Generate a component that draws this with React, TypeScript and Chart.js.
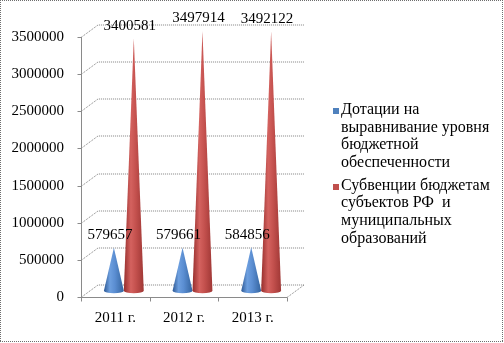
import React, { useEffect, useRef } from "react";
import { Chart, registerables } from "chart.js";

Chart.register(...registerables);

const categories = ["2011 г.", "2012 г.", "2013 г."];
const dotatsii = [579657, 579661, 584856];
const subventsii = [3400581, 3497914, 3492122];
const seriesLabels = [
  ["Дотации на", "выравнивание уровня", "бюджетной", "обеспеченности"],
  ["Субвенции бюджетам", "субъектов РФ  и", "муниципальных", "образований"],
];
const seriesColors = ["#4F81BD", "#C0504D"];
const yMin = 0;
const yMax = 3500000;
const yStep = 500000;

const FONT = '"Liberation Serif", "Times New Roman", serif';
const DX = 17;
const DY = -12.5;

const coneStops = [
  [
    [0, "#2d5894"],
    [0.3, "#6d9fdf"],
    [0.55, "#5b8ed2"],
    [1, "#34649f"],
  ],
  [
    [0, "#962e2c"],
    [0.35, "#d4625f"],
    [0.6, "#c4514e"],
    [1, "#9f3735"],
  ],
];

function drawCone(ctx: CanvasRenderingContext2D, cx: number, apexY: number, baseY: number, w: number, stops: any[]) {
  const r = w / 2;
  const ry = 2.5;
  const g = ctx.createLinearGradient(cx - r, 0, cx + r, 0);
  stops.forEach((s: any) => g.addColorStop(s[0], s[1]));
  ctx.beginPath();
  ctx.moveTo(cx, apexY);
  ctx.lineTo(cx - r, baseY);
  ctx.ellipse(cx, baseY, r, ry, 0, Math.PI, 0, true);
  ctx.lineTo(cx, apexY);
  ctx.closePath();
  ctx.fillStyle = g;
  ctx.fill();
}

const threeDPlugin = {
  id: "threeD",
  beforeDraw(chart: any) {
    const ctx = chart.ctx;
    ctx.save();
    ctx.fillStyle = "#ffffff";
    ctx.fillRect(0, 0, chart.width, chart.height);
    ctx.restore();
  },
  beforeDatasetsDraw(chart: any) {
    const { ctx, chartArea: a, scales } = chart;
    const y = scales.y;
    ctx.save();
    ctx.lineWidth = 1;
    // back wall gridlines + diagonals (dotted)
    ctx.strokeStyle = "#7f7f7f";
    ctx.setLineDash([1, 1]);
    y.ticks.forEach((t: any) => {
      const py = Math.round(y.getPixelForValue(t.value)) + 0.5;
      ctx.beginPath();
      ctx.moveTo(a.left, py);
      ctx.lineTo(a.left + DX, py + DY);
      ctx.lineTo(a.right + DX, py + DY);
      ctx.stroke();
    });
    const by = Math.round(a.bottom) + 0.5;
    ctx.beginPath();
    ctx.moveTo(a.right, by);
    ctx.lineTo(a.right + DX, by + DY);
    ctx.stroke();
    ctx.setLineDash([]);
    // floor front edge
    ctx.strokeStyle = "#8a8a8a";
    ctx.beginPath();
    ctx.moveTo(a.left, by);
    ctx.lineTo(a.right, by);
    ctx.stroke();
    // y axis line
    const lx = Math.round(a.left) + 0.5;
    ctx.beginPath();
    ctx.moveTo(lx, Math.round(a.top));
    ctx.lineTo(lx, by);
    ctx.stroke();
    y.ticks.forEach((t: any) => {
      const py = Math.round(y.getPixelForValue(t.value)) + 0.5;
      ctx.beginPath();
      ctx.moveTo(lx - 4, py);
      ctx.lineTo(lx, py);
      ctx.stroke();
    });
    // x ticks at category boundaries
    const n = categories.length;
    for (let i = 0; i <= n; i++) {
      const px = Math.round(a.left + (i * (a.right - a.left)) / n) + 0.5;
      ctx.beginPath();
      ctx.moveTo(px, by);
      ctx.lineTo(px, by + 4);
      ctx.stroke();
    }
    ctx.restore();
  },
  afterDatasetsDraw(chart: any) {
    const ctx = chart.ctx;
    ctx.save();
    chart.data.datasets.forEach((ds: any, di: number) => {
      const meta = chart.getDatasetMeta(di);
      meta.data.forEach((el: any) => {
        const cx = el.x + DX / 2;
        const apexY = el.y + DY / 2;
        const baseY = el.base + DY / 2;
        drawCone(ctx, cx, apexY, baseY, el.width, coneStops[di]);
      });
    });
    // value labels
    ctx.fillStyle = "#000";
    ctx.font = `15px ${FONT}`;
    ctx.textAlign = "center";
    ctx.textBaseline = "middle";
    chart.data.datasets.forEach((ds: any, di: number) => {
      const meta = chart.getDatasetMeta(di);
      meta.data.forEach((el: any, i: number) => {
        const cx = el.x + DX / 2;
        const apexY = el.y + DY / 2;
        ctx.fillText(String(ds.data[i]), cx - 4, apexY - 12.5);
      });
    });
    ctx.restore();
  },
  afterDraw(chart: any) {
    const ctx = chart.ctx;
    ctx.save();
    // legend
    ctx.font = `16px ${FONT}`;
    ctx.textAlign = "left";
    ctx.textBaseline = "middle";
    const lineH = 17.6;
    const starts = [110, 185.5];
    seriesLabels.forEach((lines, si) => {
      const y0 = starts[si];
      ctx.fillStyle = seriesColors[si];
      ctx.fillRect(333, Math.round(y0) - 2, 6, 6);
      ctx.fillStyle = "#000";
      lines.forEach((ln, li) => {
        ctx.fillText(ln, 341, y0 + li * lineH);
      });
    });
    // dotted frame
    ctx.strokeStyle = "#6e6e6e";
    ctx.lineWidth = 1;
    ctx.setLineDash([1, 1]);
    ctx.beginPath();
    ctx.moveTo(0, 0.5);
    ctx.lineTo(503, 0.5);
    ctx.moveTo(0.5, 0);
    ctx.lineTo(0.5, 342);
    ctx.moveTo(502.5, 0);
    ctx.lineTo(502.5, 342);
    ctx.moveTo(0, 341.5);
    ctx.lineTo(503, 341.5);
    ctx.stroke();
    ctx.restore();
  },
};

export default function App() {
  const ref = useRef<HTMLCanvasElement | null>(null);
  useEffect(() => {
    document.body.style.margin = "0";
    const canvas = ref.current;
    if (!canvas) return;
    const chart = new Chart(canvas, {
      type: "bar",
      data: {
        labels: categories,
        datasets: [
          {
            label: seriesLabels[0].join(" "),
            data: dotatsii,
            backgroundColor: "rgba(0,0,0,0)",
            borderWidth: 0,
          },
          {
            label: seriesLabels[1].join(" "),
            data: subventsii,
            backgroundColor: "rgba(0,0,0,0)",
            borderWidth: 0,
          },
        ],
      },
      options: {
        animation: false,
        responsive: false,
        devicePixelRatio: 1,
        events: [],
        datasets: { bar: { barPercentage: 1, categoryPercentage: 0.58 } },
        layout: { padding: { left: 0, right: 217, top: 37, bottom: 0 } },
        plugins: { legend: { display: false }, tooltip: { enabled: false } },
        scales: {
          x: {
            grid: { display: false, drawTicks: false },
            border: { display: false },
            ticks: { color: "#000", font: { family: FONT, size: 15 }, padding: 12 },
            afterFit: (s: any) => {
              s.height = 46;
            },
          },
          y: {
            min: yMin,
            max: yMax,
            grid: { display: false, drawTicks: false },
            border: { display: false },
            ticks: {
              stepSize: yStep,
              color: "#000",
              font: { family: FONT, size: 15 },
              padding: 17,
              callback: (v: any) => String(v),
            },
            afterFit: (s: any) => {
              s.width = 81;
            },
          },
        },
      },
      plugins: [threeDPlugin],
    });
    return () => chart.destroy();
  }, []);
  return (
    <div style={{ width: 504, height: 343 }}>
      <canvas ref={ref} width={504} height={343} style={{ display: "block" }} />
    </div>
  );
}
